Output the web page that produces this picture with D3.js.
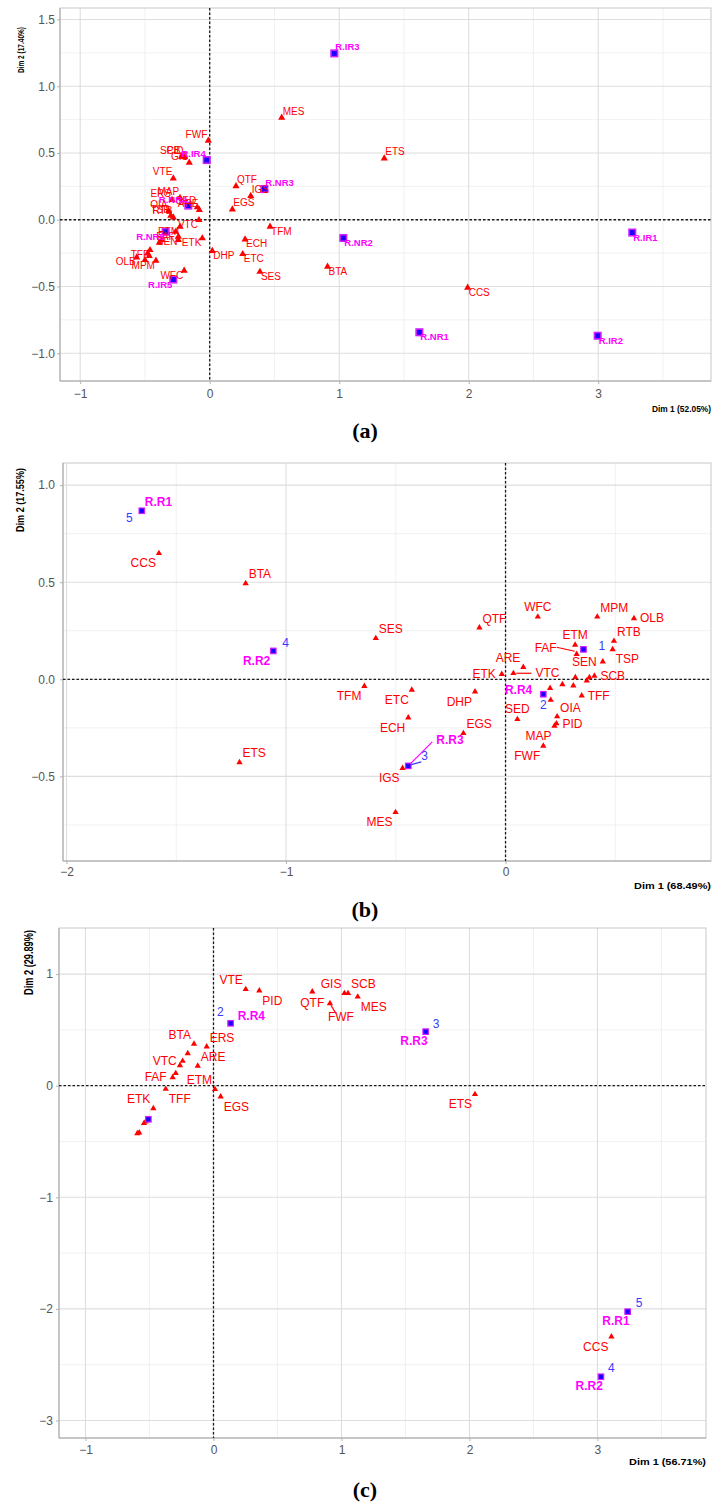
<!DOCTYPE html>
<html>
<head>
<meta charset="utf-8">
<script src="https://cdn.jsdelivr.net/npm/d3@7"></script>
<style>
body { margin: 0; background: #fff; }
</style>
</head>
<body>
<svg id="fig" width="713" height="1503"></svg>
<script>
var FONT = "'Liberation Sans', Arial, Helvetica, sans-serif";
var svg = d3.select("#fig");
svg.append("rect").attr("width", 713).attr("height", 1503).attr("fill", "#fff");

// ---- panel (a) : variables (triangles) and individuals (squares)
var varNamesA = ["MES","FWF","SCB","PID","GIS","VTE","QTF","IGS","EGS","ETS","TFM","ECH","ETC","SES","BTA","CCS","DHP","WFC","ETK","VTC",
                 "MAP","ERS","SED","ARE","OIA","TSP","RTB","FAF","ETM","TFF","SEN","MPM","OLB","","","","","",""];
var varXA = [0.556,-0.011,-0.218,-0.195,-0.158,-0.281,0.203,0.317,0.175,1.348,0.466,0.273,0.255,0.388,0.910,1.992,0.020,-0.197,-0.057,-0.083,
             -0.229,-0.291,-0.096,-0.080,-0.318,-0.300,-0.281,-0.263,-0.229,-0.461,-0.242,-0.415,-0.564,-0.242,-0.371,-0.389,-0.479,-0.467,-0.500];
var varYA = [0.764,0.592,0.473,0.470,0.427,0.309,0.252,0.178,0.078,0.460,-0.052,-0.148,-0.257,-0.390,-0.351,-0.509,-0.234,-0.381,-0.139,-0.002,
             0.163,0.148,0.093,0.073,0.065,0.030,0.018,-0.090,-0.052,-0.227,-0.127,-0.307,-0.282,-0.152,-0.152,-0.172,-0.252,-0.272,-0.302];
var indNamesA = ["R.IR3","R.IR4","R.NR3","R.NR4","R.NR5","R.IR5","R.NR2","R.IR1","R.NR1","R.IR2"];
var indXA = [0.962,-0.023,0.422,-0.165,-0.340,-0.281,1.032,3.263,1.619,2.996];
var indYA = [1.246,0.447,0.230,0.106,-0.090,-0.448,-0.137,-0.096,-0.843,-0.869];
var xTicksA = [-1, 0, 1, 2, 3];
var yTicksA = [-1, -0.5, 0, 0.5, 1, 1.5];

// ---- panel (b)
var varNamesB = ["CCS","BTA","SES","TFM","QTF","WFC","MPM","OLB","ETM","RTB","FAF","TSP","SEN","ARE","ETK","VTC","SCB","TFF","OIA","PID",
                 "MAP","SED","FWF","DHP","ETC","ECH","EGS","IGS","ETS","MES","","","","","","",""];
var varXB = [-1.579,-1.184,-0.591,-0.643,-0.119,0.147,0.418,0.585,0.317,0.494,0.324,0.488,0.443,0.081,-0.017,0.036,0.405,0.347,0.235,0.232,
             0.223,0.054,0.172,-0.139,-0.427,-0.443,-0.192,-0.469,-1.212,-0.501,0.203,0.259,0.309,0.206,0.382,0.370,0.318];
var varYB = [0.649,0.494,0.211,-0.035,0.266,0.322,0.322,0.314,0.177,0.197,0.129,0.154,0.091,0.062,0.026,0.031,0.017,-0.084,-0.192,-0.228,
             -0.240,-0.206,-0.343,-0.064,-0.055,-0.198,-0.278,-0.458,-0.428,-0.685,-0.046,-0.026,-0.033,-0.107,0.010,-0.007,0.010];
var varAnchorB = ["sw","ne","ne","sw","ne","n","ne","e","n","ne","w","se","w","nw","w","e","e","e","ne","e",
                  "sw","n","sw","sw","sw","sw","ne","sw","ne","sw","","","","","","",""];
var indNamesB = ["R.R1","R.R2","R.R3","R.R4",""];
var indNumsB = ["5","4","3","2","1"];
var indXB = [-1.657,-1.058,-0.443,0.172,0.355];
var indYB = [0.868,0.146,-0.446,-0.077,0.154];
var xTicksB = [-2, -1, 0];
var yTicksB = [-0.5, 0, 0.5, 1];

// ---- panel (c)
var varNamesC = ["VTE","PID","QTF","GIS","SCB","MES","FWF","BTA","ERS","ARE","VTC","FAF","ETM","TFF","EGS","ETK","ETS","CCS",
                 "","","","","","",""];
var varXC = [0.252,0.358,0.772,1.023,1.051,1.127,0.910,-0.152,-0.053,-0.123,-0.241,-0.319,0.012,-0.373,0.056,-0.470,2.043,3.109,
             -0.201,-0.262,-0.295,-0.543,-0.580,-0.595,-0.530];
var varYC = [0.864,0.851,0.842,0.828,0.828,0.797,0.738,0.374,0.349,0.177,0.221,0.075,-0.032,-0.030,-0.099,-0.203,-0.077,-2.249,
             0.290,0.181,0.111,-0.337,-0.421,-0.427,-0.323];
var varAnchorC = ["nw","se","s","nw","ne","se","se","nw","ne","ne","w","w","nw","se","se","nw","sw","sw","","","","","","",""];
var indNamesC = ["R.R4","R.R3","R.R1","R.R2",""];
var indNumsC = ["2","3","5","4",""];
var indXC = [0.134,1.658,3.236,3.027,-0.509];
var indYC = [0.559,0.484,-2.025,-2.608,-0.301];
var xTicksC = [-1, 0, 1, 2, 3];
var yTicksC = [-3, -2, -1, 0, 1];

// label offsets for each anchor code: [dx, dy, text-anchor]
var offA = {ne:[1,-3,"start"], nw:[-1,-3,"end"], se:[1,8,"start"], sw:[-1,8,"end"]};
var offBC = {ne:[3,-5,"start"], nw:[-3,-5,"end"], se:[3,14,"start"], sw:[-3,14,"end"],
             n:[0,-6,"middle"], s:[0,15,"middle"], e:[6,4,"start"], w:[-6,4,"end"]};

// hand nudges (ggrepel-like), with optional leader segment
var tweaksB = {
  "FAF": [-20, -2.6, "end", [-2,-3,-20,-7]],
  "VTC": [22, 4, "start", [3,0,18,0]],
  "5": [-9, 11, "end"],
  "4": [9, -4, "start"],
  "R.R3": [28, -22, "start", [2,-2,24,-24]],
  "3": [13, -6, "start", [2,-1,13,-4]],
  "R.R4": [-11, 0, "end"],
  "1": [15, 1, "start"]
};
var tweaksC = {
  "FWF": [-2, 18, "start", [1,2,6,10]],
  "R.R4": [7, -3, "start"], "2": [-7, -7, "end"],
  "R.R3": [2, 13, "end"], "3": [7, -4, "start"],
  "R.R1": [2, 13, "end"], "5": [8, -5, "start"],
  "R.R2": [2, 13, "end"], "4": [7, -5, "start"]
};

function minors(ticks, dom) {
  var step = ticks[1] - ticks[0], out = [];
  for (var i = -1; i < ticks.length; i++) {
    var v = ticks[0] + step * (i + 0.5);
    if (v > dom[0] && v < dom[1]) out.push(v);
  }
  return out;
}

function axisStyle(s) {
  s.select(".domain").remove();
  s.selectAll(".tick line").attr("stroke", "#b3b3b3");
  s.selectAll("text").attr("fill", "#555");
  s.attr("font-size", 12).attr("font-family", FONT);
}

function drawPanel(P) {
  var g = svg.append("g");
  var x = d3.scaleLinear().domain(P.xDom).range([P.l, P.r]);
  var y = d3.scaleLinear().domain(P.yDom).range([P.b, P.t]);

  // grid
  g.selectAll(".gxm").data(minors(P.xTicks, P.xDom)).join("line")
    .attr("x1", x).attr("x2", x).attr("y1", P.t).attr("y2", P.b)
    .attr("stroke", "#ededed").attr("stroke-width", 0.8);
  g.selectAll(".gym").data(minors(P.yTicks, P.yDom)).join("line")
    .attr("y1", y).attr("y2", y).attr("x1", P.l).attr("x2", P.r)
    .attr("stroke", "#ededed").attr("stroke-width", 0.8);
  g.selectAll(".gx").data(P.xTicks).join("line")
    .attr("x1", x).attr("x2", x).attr("y1", P.t).attr("y2", P.b)
    .attr("stroke", "#dedede").attr("stroke-width", 1.1);
  g.selectAll(".gy").data(P.yTicks).join("line")
    .attr("y1", y).attr("y2", y).attr("x1", P.l).attr("x2", P.r)
    .attr("stroke", "#dedede").attr("stroke-width", 1.1);

  g.append("rect").attr("x", P.l).attr("y", P.t).attr("width", P.r - P.l).attr("height", P.b - P.t)
    .attr("fill", "none").attr("stroke", "#c8c8c8");
  g.append("path").attr("d", "M" + P.l + "," + P.t + "V" + P.b + "H" + P.r)
    .attr("fill", "none").attr("stroke", "#a8a8a8");

  // axes
  g.append("g").attr("transform", "translate(0," + P.b + ")")
    .call(d3.axisBottom(x).tickValues(P.xTicks).tickSize(3).tickPadding(P.xPad).tickFormat(P.fmtX))
    .call(axisStyle);
  g.append("g").attr("transform", "translate(" + P.l + ",0)")
    .call(d3.axisLeft(y).tickValues(P.yTicks).tickSize(3).tickPadding(P.yPad).tickFormat(P.fmtY))
    .call(axisStyle);

  // zero lines
  g.append("line").attr("x1", x(0)).attr("x2", x(0)).attr("y1", P.t).attr("y2", P.b)
    .attr("stroke", "#1a1a1a").attr("stroke-width", 1.3).attr("stroke-dasharray", "2.5,2");
  g.append("line").attr("y1", y(0)).attr("y2", y(0)).attr("x1", P.l).attr("x2", P.r)
    .attr("stroke", "#1a1a1a").attr("stroke-width", 1.3).attr("stroke-dasharray", "2.5,2");

  var vars = P.vNames.map(function(n, i) {
    return {name: n, x: P.vX[i], y: P.vY[i], code: P.vAnchor ? P.vAnchor[i] : null};
  });
  var inds = P.iNames.map(function(n, i) {
    return {name: n, num: P.iNums ? P.iNums[i] : "", x: P.iX[i], y: P.iY[i],
            code: P.iAnchor ? P.iAnchor[i] : null, ncode: P.nAnchor ? P.nAnchor[i] : null};
  });

  // labels collected then drawn
  var labels = [];
  function addLabel(text, d, code, color, weight, fs) {
    if (!text) return;
    if (!code) code = (d.y >= 0 ? "n" : "s") + (d.x >= 0 ? "e" : "w");
    var o = P.offs[code];
    var tw = P.tweaks && P.tweaks[text];
    if (tw) o = tw;
    labels.push({text: text, px: x(d.x), py: y(d.y), dx: o[0], dy: o[1], anchor: o[2], line: tw ? tw[3] : null,
                 color: color, weight: weight, fs: fs});
  }
  vars.forEach(function(d) { addLabel(d.name, d, d.code, "#ff0000", "normal", P.fsVar); });
  inds.forEach(function(d) {
    addLabel(d.name, d, d.code, "#ff00ff", "bold", P.fsInd);
    addLabel(d.num, d, d.ncode, "#3a3aff", "normal", P.fsInd);
  });

  var tri = d3.symbol().type(d3.symbolTriangle).size(P.triSize);
  g.selectAll(".tri").data(vars).join("path")
    .attr("d", tri)
    .attr("transform", function(d) { return "translate(" + x(d.x) + "," + y(d.y) + ")"; })
    .attr("fill", "#ff0000");

  g.selectAll(".lead").data(labels.filter(function(l) { return l.line; })).join("line")
    .attr("x1", function(l) { return l.px + l.line[0]; })
    .attr("y1", function(l) { return l.py + l.line[1]; })
    .attr("x2", function(l) { return l.px + l.line[2]; })
    .attr("y2", function(l) { return l.py + l.line[3]; })
    .attr("stroke", function(l) { return l.color; }).attr("stroke-width", 1.2);

  var s = P.sqSize;
  g.selectAll(".sq").data(inds).join("rect")
    .attr("x", function(d) { return x(d.x) - s / 2; })
    .attr("y", function(d) { return y(d.y) - s / 2; })
    .attr("width", s).attr("height", s)
    .attr("fill", "#1a00ff").attr("stroke", "#d020ff").attr("stroke-width", P.sqStroke);

  g.selectAll(".lab").data(labels).join("text")
    .attr("x", function(l) { return l.px + l.dx; })
    .attr("y", function(l) { return l.py + l.dy; })
    .attr("text-anchor", function(l) { return l.anchor; })
    .attr("font-family", FONT)
    .attr("font-size", function(l) { return l.fs; })
    .attr("font-weight", function(l) { return l.weight; })
    .attr("fill", function(l) { return l.color; })
    .text(function(l) { return l.text; });

  // axis titles
  g.append("text")
    .attr("x", P.xT.right - P.xT.len).attr("y", P.xT.base)
    .attr("font-family", FONT).attr("font-weight", "bold").attr("font-size", P.xT.fs)
    .attr("textLength", P.xT.len).attr("lengthAdjust", "spacingAndGlyphs")
    .text(P.xT.text);
  g.append("text")
    .attr("transform", "translate(" + P.yT.x + "," + P.yT.bottom + ") rotate(-90)")
    .attr("font-family", FONT).attr("font-weight", "bold").attr("font-size", P.yT.fs)
    .attr("textLength", P.yT.len).attr("lengthAdjust", "spacingAndGlyphs")
    .text(P.yT.text);

  // caption
  g.append("text").attr("x", 365).attr("y", P.capBase).attr("text-anchor", "middle")
    .attr("font-family", "'Liberation Serif', 'Times New Roman', serif")
    .attr("font-weight", "bold").attr("font-size", 22)
    .text(P.caption);
}

var f1 = d3.format(".1f"), f0 = d3.format("d");

drawPanel({
  l: 60, r: 711, t: 8, b: 381,
  xDom: [-1.156, 3.871], yDom: [-1.208, 1.586],
  xTicks: xTicksA, yTicks: yTicksA, fmtX: f0, fmtY: f1, xPad: 5.5, yPad: 2,
  vNames: varNamesA, vX: varXA, vY: varYA, vAnchor: null,
  iNames: indNamesA, iNums: null, iX: indXA, iY: indYA,
  offs: offA, tweaks: null,
  fsVar: 10, fsInd: 9.5, triSize: 22, sqSize: 6.5, sqStroke: 1.6,
  xT: {text: "Dim 1 (52.05%)", right: 711, base: 412, len: 59, fs: 8.5},
  yT: {text: "Dim 2 (17.40%)", x: 24, bottom: 73, len: 46, fs: 9},
  caption: "(a)", capBase: 438
});

drawPanel({
  l: 63, r: 711, t: 463, b: 861,
  xDom: [-2.016, 0.936], yDom: [-0.936, 1.114],
  xTicks: xTicksB, yTicks: yTicksB, fmtX: f0, fmtY: f1, xPad: 3.5, yPad: 5,
  vNames: varNamesB, vX: varXB, vY: varYB, vAnchor: varAnchorB,
  iNames: indNamesB, iNums: indNumsB, iX: indXB, iY: indYB,
  iAnchor: ["ne","sw","ne","w",""], nAnchor: ["sw","ne","ne","s","e"],
  offs: offBC, tweaks: tweaksB,
  fsVar: 12, fsInd: 12, triSize: 17, sqSize: 5.5, sqStroke: 1.2,
  xT: {text: "Dim 1 (68.49%)", right: 711, base: 889, len: 77, fs: 9.5},
  yT: {text: "Dim 2 (17.55%)", x: 23.5, bottom: 532, len: 64, fs: 10},
  caption: "(b)", capBase: 917
});

drawPanel({
  l: 59, r: 706, t: 928, b: 1438,
  xDom: [-1.207, 3.848], yDom: [-3.157, 1.413],
  xTicks: xTicksC, yTicks: yTicksC, fmtX: f0, fmtY: f0, xPad: 4, yPad: 3,
  vNames: varNamesC, vX: varXC, vY: varYC, vAnchor: varAnchorC,
  iNames: indNamesC, iNums: indNumsC, iX: indXC, iY: indYC,
  iAnchor: ["sw","sw","sw","sw",""], nAnchor: ["ne","ne","ne","ne",""],
  offs: offBC, tweaks: tweaksC,
  fsVar: 12, fsInd: 12, triSize: 17, sqSize: 5.5, sqStroke: 1.2,
  xT: {text: "Dim 1 (56.71%)", right: 706, base: 1465, len: 77, fs: 9.5},
  yT: {text: "Dim 2 (29.89%)", x: 33, bottom: 995, len: 65, fs: 12},
  caption: "(c)", capBase: 1497
});
</script>
</body>
</html>
